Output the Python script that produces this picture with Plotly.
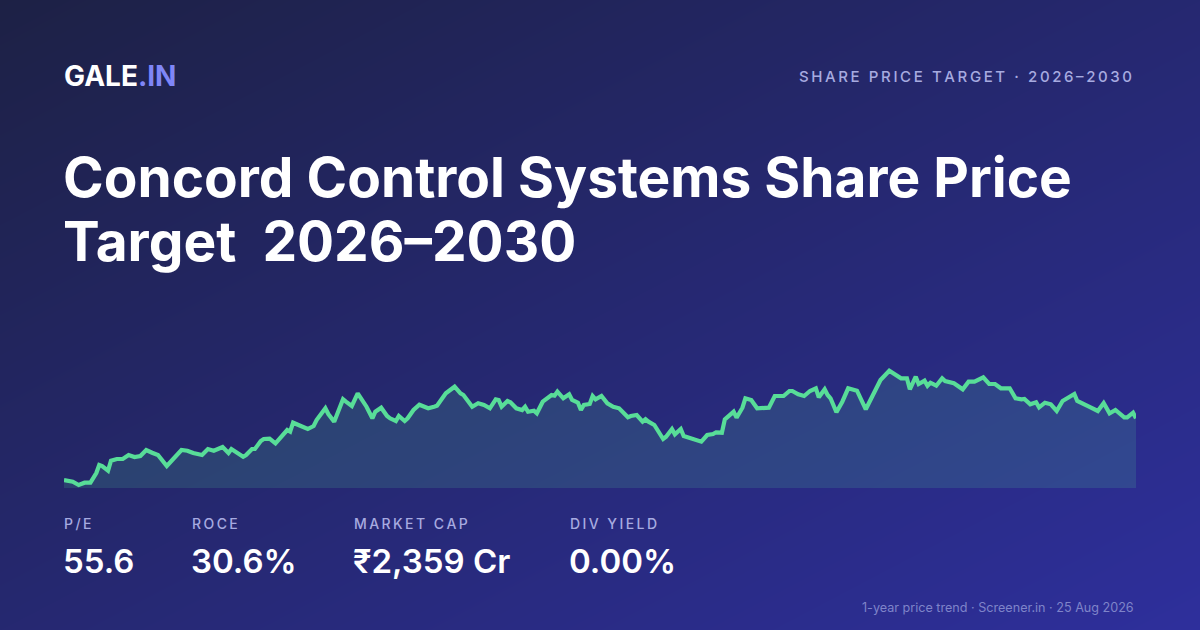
import numpy as np
import pandas as pd
import plotly.graph_objects as go

# --- 1-year price trend (day offset from 25 Aug 2025, close in ₹) ---
START_DATE = "2025-08-25"
END_DATE = "2026-08-25"
DAYS = [0, 3, 5, 7, 9, 11, 12, 13, 15, 16, 18, 20, 22, 24, 26, 28, 30, 32, 35, 37,
        40, 42, 44, 47, 49, 51, 54, 56, 57, 61, 62, 64, 65, 67, 68, 70, 72, 76, 77, 78,
        80, 83, 85, 86, 89, 90, 92, 95, 96, 98, 100, 103, 105, 106, 108, 110, 111, 113, 114, 116,
        117, 119, 121, 124, 126, 127, 130, 133, 135, 136, 139, 141, 143, 145, 147, 148, 149, 151, 152, 154,
        156, 157, 158, 160, 161, 163, 166, 167, 168, 170, 172, 173, 175, 176, 177, 179, 180, 181, 183, 185,
        187, 189, 192, 193, 195, 197, 198, 199, 201, 204, 205, 207, 208, 210, 211, 214, 217, 219, 221, 222,
        224, 225, 226, 228, 229, 231, 232, 234, 236, 240, 242, 245, 247, 248, 250, 252, 254, 256, 257, 259,
        260, 261, 263, 265, 267, 270, 273, 276, 278, 281, 283, 285, 287, 288, 290, 291, 293, 294, 295, 297,
        299, 300, 303, 306, 308, 310, 313, 315, 317, 319, 322, 324, 326, 327, 329, 331, 332, 334, 336, 338,
        340, 342, 344, 345, 347, 349, 352, 354, 356, 358, 361, 362, 364, 365]
PRICES = [1080, 1063, 1030, 1053, 1053, 1150, 1230, 1220, 1173, 1273, 1290, 1290, 1330, 1310, 1320, 1380, 1353, 1330, 1220, 1290,
          1380, 1373, 1350, 1330, 1390, 1373, 1410, 1350, 1390, 1313, 1330, 1390, 1390, 1470, 1490, 1493, 1447, 1580, 1563, 1653,
          1630, 1590, 1620, 1680, 1797, 1740, 1663, 1887, 1863, 1820, 1947, 1813, 1697, 1763, 1803, 1720, 1697, 1670, 1720, 1670,
          1697, 1780, 1833, 1797, 1813, 1823, 1947, 2013, 1947, 1930, 1813, 1847, 1830, 1797, 1887, 1880, 1813, 1870, 1857, 1797,
          1780, 1813, 1763, 1773, 1747, 1863, 1930, 1923, 1963, 1897, 1937, 1880, 1853, 1780, 1830, 1840, 1920, 1887, 1920, 1847,
          1813, 1797, 1707, 1720, 1730, 1663, 1687, 1663, 1630, 1490, 1513, 1590, 1537, 1590, 1520, 1490, 1463, 1530, 1540, 1557,
          1553, 1687, 1713, 1763, 1703, 1803, 1897, 1880, 1797, 1803, 1920, 1920, 1970, 1970, 1937, 1920, 1970, 1997, 1907, 1987,
          1930, 1897, 1757, 1863, 1997, 1973, 1787, 1963, 2080, 2173, 2140, 2097, 2097, 1987, 2113, 2040, 2073, 2023, 2053, 2023,
          2097, 2070, 2047, 1987, 2063, 2063, 2107, 2040, 2040, 1997, 1997, 1897, 1887, 1890, 1837, 1857, 1807, 1853, 1837, 1770,
          1870, 1903, 1940, 1870, 1847, 1813, 1770, 1850, 1747, 1780, 1707, 1707, 1753, 1697]

# --- key ratios ---
STAT_LABELS = ["P/E", "ROCE", "MARKET CAP", "DIV YIELD"]
STAT_VALUES = ["55.6", "30.6%", "₹2,359 Cr", "0.00%"]
STAT_X = [65, 193, 355, 571]

TITLE_LINES = ["Concord Control Systems Share Price", "Target  2026–2030"]
KICKER = "SHARE PRICE TARGET · 2026–2030"
FOOTER = "1-year price trend · Screener.in · 25 Aug 2026"

W, H = 1200, 630
FONT = "Inter"
LINE_GREEN = "#58dd98"
MUTED = "#a7abe0"


def spaced(s):
    # fake letter-spacing with thin spaces
    return "\u2009".join(s)


def px(x):
    return x / W


def py(y):
    return 1 - y / H


dates = pd.Timestamp(START_DATE) + pd.to_timedelta(DAYS, unit="D")

fig = go.Figure()

# background diagonal gradient (first subplot so it sits underneath)
fig.add_trace(go.Heatmap(
    z=[[0, 0.5], [0.5, 1]], x=[0, 1], y=[1, 0],
    colorscale=[[0, "#1d2145"], [1, "#2e2f9c"]],
    zsmooth="best", showscale=False, hoverinfo="skip",
    xaxis="x", yaxis="y",
))

# price trend
fig.add_trace(go.Scatter(
    x=dates, y=PRICES, mode="lines",
    line=dict(color=LINE_GREEN, width=4.2),
    fill="tozeroy", fillcolor="rgba(88,221,152,0.15)",
    hoverinfo="skip", xaxis="x2", yaxis="y2",
))

ann = []
# logo
ann.append(dict(x=px(62), y=py(76), xref="paper", yref="paper", xanchor="left", yanchor="middle",
                text="GALE<span style='color:#7f86f7'>.IN</span>", showarrow=False,
                font=dict(family=FONT, size=28, color="white", weight=700)))
# kicker
ann.append(dict(x=px(1134), y=py(76), xref="paper", yref="paper", xanchor="right", yanchor="middle",
                text=spaced(KICKER), showarrow=False,
                font=dict(family=FONT, size=15, color=MUTED, weight=500)))
# title
for i, line in enumerate(TITLE_LINES):
    ann.append(dict(x=px(61), y=py(177 + i * 64), xref="paper", yref="paper", xanchor="left", yanchor="middle",
                    text=line, showarrow=False,
                    font=dict(family=FONT, size=55, color="white", weight=700)))
# stats
for lab, val, x in zip(STAT_LABELS, STAT_VALUES, STAT_X):
    ann.append(dict(x=px(x - 3), y=py(523), xref="paper", yref="paper", xanchor="left", yanchor="middle",
                    text=spaced(lab), showarrow=False,
                    font=dict(family=FONT, size=14, color=MUTED, weight=500)))
    ann.append(dict(x=px(x - 4), y=py(561), xref="paper", yref="paper", xanchor="left", yanchor="middle",
                    text=val, showarrow=False,
                    font=dict(family=FONT, size=33, color="white", weight=600)))
# footer
ann.append(dict(x=px(1136), y=py(607), xref="paper", yref="paper", xanchor="right", yanchor="middle",
                text=FOOTER, showarrow=False,
                font=dict(family=FONT, size=12.6, color="#7f84c9")))

fig.update_layout(
    width=W, height=H,
    margin=dict(l=0, r=0, t=0, b=0),
    paper_bgcolor="#24286f", plot_bgcolor="rgba(0,0,0,0)",
    showlegend=False,
    xaxis=dict(domain=[0, 1], range=[0, 1], visible=False, fixedrange=True),
    yaxis=dict(domain=[0, 1], range=[0, 1], visible=False, fixedrange=True),
    xaxis2=dict(domain=[px(64), px(1136)], range=[START_DATE, END_DATE], visible=False,
                anchor="y2", fixedrange=True),
    yaxis2=dict(domain=[py(488), py(360)], range=[1000, 2280], visible=False,
                anchor="x2", fixedrange=True),
    annotations=ann,
)

fig.write_html("out.html", config={"displayModeBar": False},
               post_script="document.body.style.margin='0';document.body.style.overflow='hidden';")
